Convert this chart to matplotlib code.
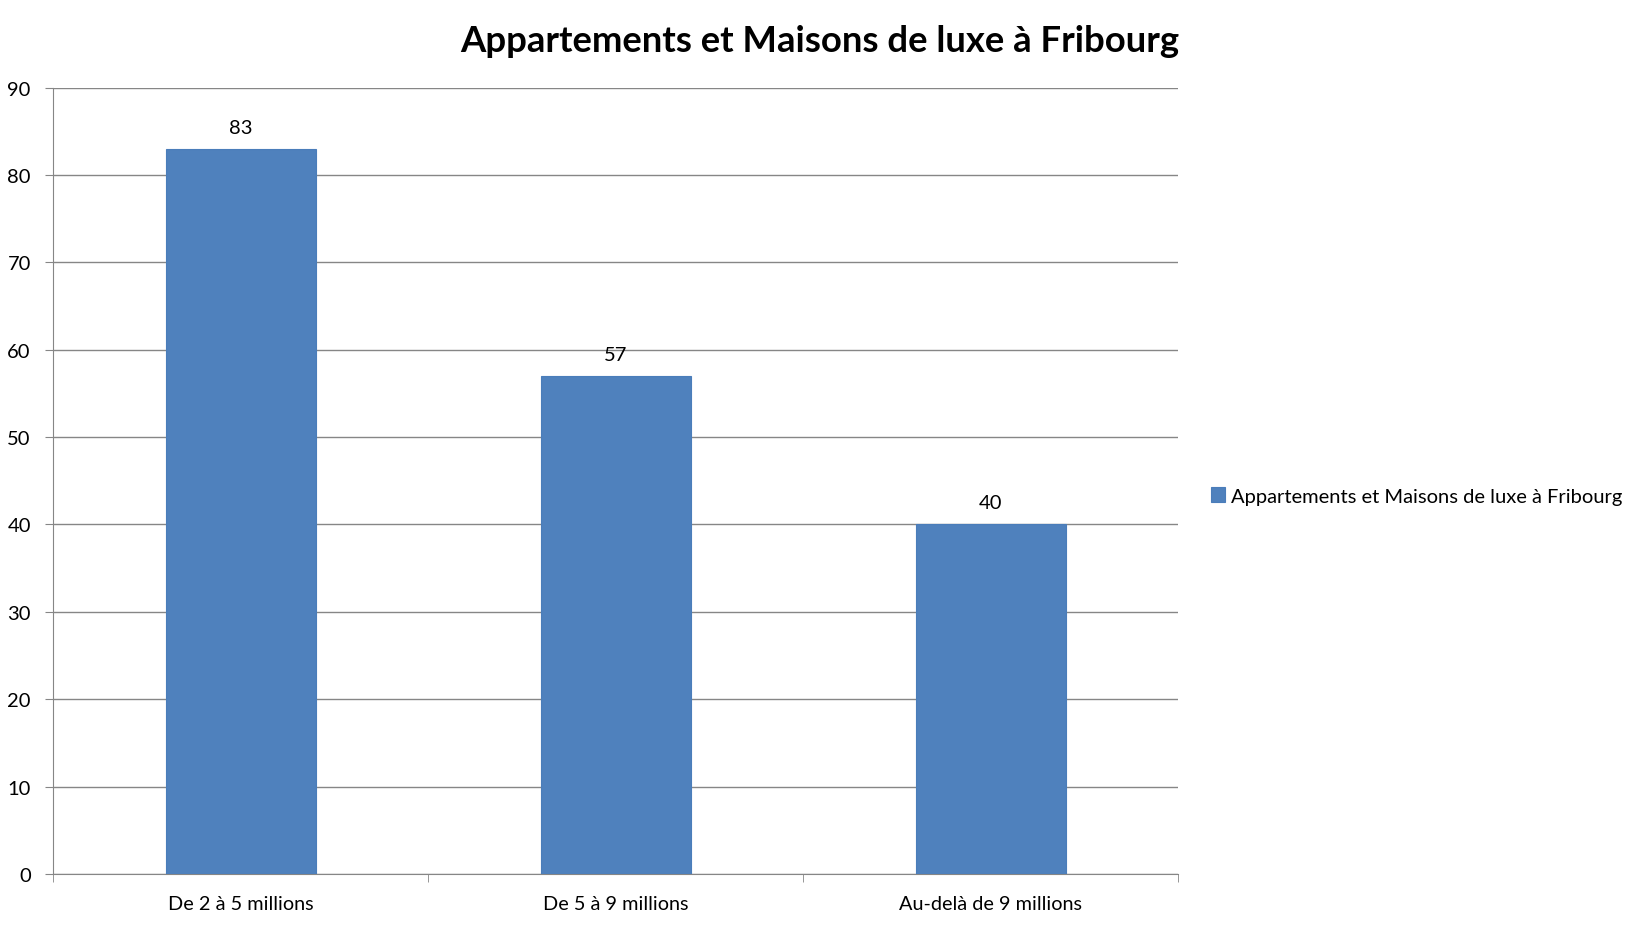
import numpy as np
import matplotlib.pyplot as plt

plt.rcParams['font.family'] = ['Lato', 'DejaVu Sans']

categories = ['De 2 à 5 millions', 'De 5 à 9 millions', 'Au-delà de 9 millions']
values = [83, 57, 40]
series_name = 'Appartements et Maisons de luxe à Fribourg'

bar_color = '#4F81BD'
grid_color = '#868686'

fig = plt.figure(figsize=(16.44, 9.28), dpi=100)
W, H = 1644, 928
ax = fig.add_axes([53 / W, 1 - 875 / H, (1178 - 53) / W, (875 - 88.5) / H])

x = np.arange(len(categories))
bars = ax.bar(x, values, width=0.4, color=bar_color, edgecolor='#4A7DBA',
              linewidth=0.8, zorder=3, label=series_name)

for xi, v in zip(x, values):
    ax.text(xi, v + 1.5, str(v), ha='center', va='bottom', fontsize=14.5, color='black')

ax.set_xlim(-0.5, len(categories) - 0.5)
ax.set_ylim(0, 90)
ax.set_yticks(np.arange(0, 91, 10))
ax.yaxis.grid(True, color=grid_color, linewidth=1.0, zorder=0)
ax.set_axisbelow(True)

for s in ['top', 'right']:
    ax.spines[s].set_visible(False)
ax.spines['left'].set_color(grid_color)
ax.spines['bottom'].set_color(grid_color)
ax.tick_params(axis='y', direction='out', length=6, color=grid_color,
               labelsize=14.5, pad=10)

# category labels at bar centres, tick marks at category boundaries
ax.set_xticks(x)
ax.set_xticklabels(categories, fontsize=14.3)
ax.tick_params(axis='x', length=0, pad=15)
ax.set_xticks(np.arange(-0.5, len(categories), 1.0), minor=True)
ax.tick_params(axis='x', which='minor', direction='out', length=6, color=grid_color)

fig.text(820 / W, 1 - 42 / H, 'Appartements et Maisons de luxe à Fribourg',
         ha='center', va='center', fontsize=26.3, fontweight='bold')

fig.legend(handles=[bars], labels=[series_name], loc='center left',
           bbox_to_anchor=(1193 / W, 1 - 497 / H), frameon=False,
           fontsize=14.5, handlelength=0.7, handleheight=0.7, handletextpad=0.3)

fig.savefig('out.png', dpi=100)
